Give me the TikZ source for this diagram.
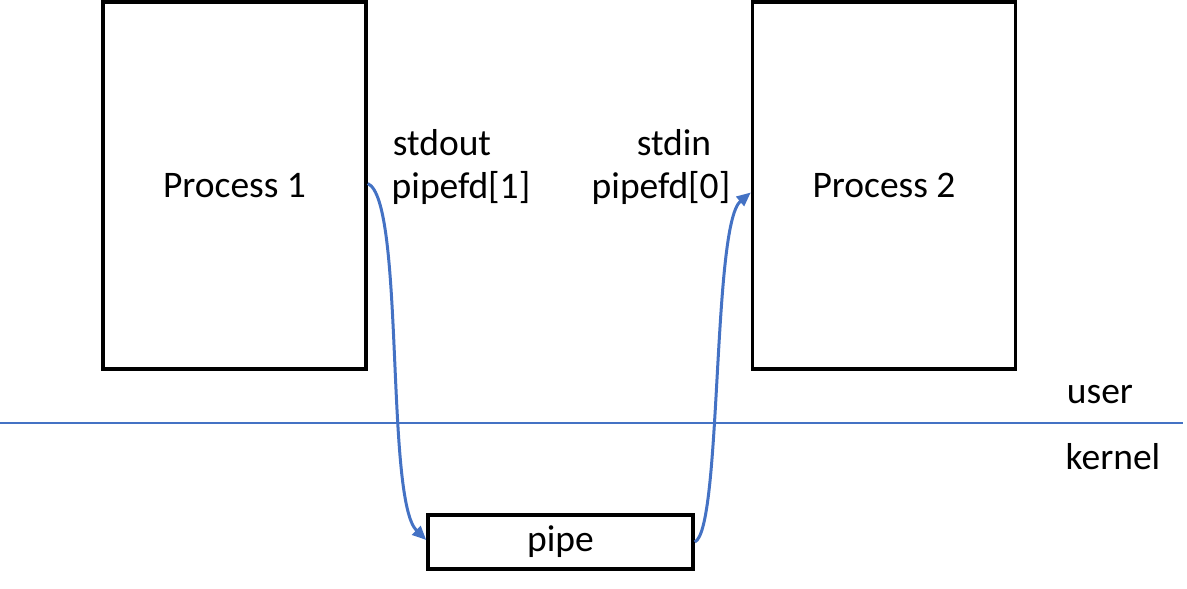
\documentclass[tikz,border=0pt]{standalone}
\usepackage{fontspec}
\setmainfont{Carlito}
\usetikzlibrary{arrows.meta, positioning}
\definecolor{pipeblue}{RGB}{68, 114, 196}

\begin{document}
\begin{tikzpicture}[x=1pt, y=-1pt,
    procbox/.style={draw, line width=3.5pt, minimum width=263pt, minimum height=367pt, font=\fontsize{37.5}{44}\selectfont},
    pipebox/.style={draw, line width=3.5pt, minimum width=265pt, minimum height=54pt, font=\fontsize{37.5}{44}\selectfont},
    lbl/.style={font=\fontsize{37.5}{44}\selectfont, inner sep=0pt},
    flow/.style={pipeblue, line width=3pt, -{Triangle[length=14pt, width=12pt]}}]
    \useasboundingbox (0,0) rectangle (1187,589);
    % boxes
    \node[procbox] (proc1) at (234.5,185.5) {Process 1};
    \node[procbox] (proc2) at (884,185.5) {Process 2};
    \node[pipebox] (pipe) at (560.5,542) {pipe};
    % labels
    \node[lbl] (out) at (442,143) {stdout};
    \node[lbl] (wfd) at (461,188) {pipefd[1]};
    \node[lbl] (in) at (674,143) {stdin};
    \node[lbl] (rfd) at (661,188) {pipefd[0]};
    \node[lbl] (usr) at (1100,395) {user};
    \node[lbl] (krn) at (1113,457) {kernel};
    % user / kernel boundary
    \coordinate (bl) at (0,423);
    \coordinate (br) at (1183,423);
    \draw[pipeblue, line width=1.5pt] (bl) -- (br);
    % data flow
    \draw[flow] ([yshift=2pt]proc1.east) .. controls (405,200) and (385,500) .. ([yshift=2pt]pipe.west);
    \draw[flow] (pipe.east) .. controls (722,530) and (712,225) .. ([yshift=-7pt]proc2.west);
\end{tikzpicture}
\end{document}
